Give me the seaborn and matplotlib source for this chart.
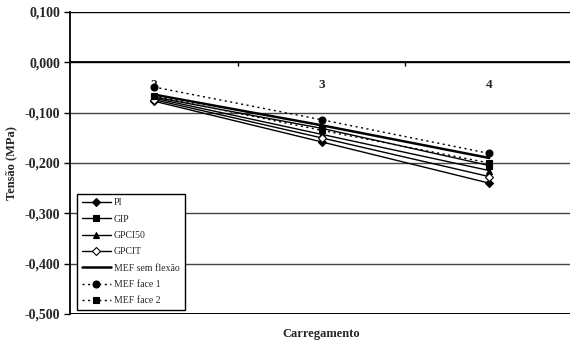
import matplotlib
matplotlib.use("Agg")
import matplotlib.pyplot as plt
from matplotlib.ticker import FixedLocator, FuncFormatter
import seaborn as sns
import pandas as pd

# Load steps and stresses (MPa) for each method
carregamento = [2, 3, 4]
pi = [-0.077, -0.158, -0.240]
gip = [-0.069, -0.131, -0.205]
gpci50 = [-0.071, -0.143, -0.215]
gpcit = [-0.074, -0.150, -0.227]
mef_sem_flexao = [-0.064, -0.125, -0.190]
mef_face1 = [-0.049, -0.114, -0.181]
mef_face2 = [-0.067, -0.135, -0.200]

series_names = ["PI", "GIP", "GPCI50", "GPCIT", "MEF sem flexão", "MEF face 1", "MEF face 2"]
series_values = [pi, gip, gpci50, gpcit, mef_sem_flexao, mef_face1, mef_face2]
y_ticks = [0.1, 0.0, -0.1, -0.2, -0.3, -0.4, -0.5]

styles = {
    "PI": dict(marker="D", markersize=4, mfc="black", ls="-", lw=1.0),
    "GIP": dict(marker="s", markersize=5, mfc="black", ls="-", lw=1.0),
    "GPCI50": dict(marker="^", markersize=5, mfc="black", ls="-", lw=1.0),
    "GPCIT": dict(marker="D", markersize=4, mfc="white", ls="-", lw=1.0),
    "MEF sem flexão": dict(marker=None, ls="-", lw=1.8),
    "MEF face 1": dict(marker="o", markersize=5, mfc="black", ls=(0, (1.5, 2.5)), lw=1.0),
    "MEF face 2": dict(marker="s", markersize=5, mfc="black", ls=(0, (1.5, 2.5)), lw=1.0),
}

sns.set_theme(style="white")
plt.rcParams["font.family"] = ["Liberation Serif", "DejaVu Serif"]

fig = plt.figure(figsize=(5.7, 3.45), dpi=100)
ax = fig.add_axes([70 / 570, 1 - 314 / 345, 503 / 570, 302 / 345])

for name, vals in zip(series_names, series_values):
    df = pd.DataFrame({"Carregamento": carregamento, "Tensão": vals})
    st = styles[name]
    sns.lineplot(data=df, x="Carregamento", y="Tensão", ax=ax, color="black",
                 linestyle=st["ls"], linewidth=st["lw"], marker=st["marker"],
                 markersize=st.get("markersize", 0), markerfacecolor=st.get("mfc", "black"),
                 markeredgecolor="black", markeredgewidth=0.8, label=name)

ax.set_xlim(1.5, 4.5)
ax.set_ylim(-0.5, 0.1)
ax.yaxis.set_major_locator(FixedLocator(y_ticks))
ax.yaxis.set_major_formatter(FuncFormatter(lambda v, p: f"{v:.3f}".replace(".", ",").replace("-0,000", "0,000")))
for t in y_ticks:
    ax.axhline(t, color="#444444" if t not in (0.0, -0.5, 0.1) else "black",
               lw=1.0 if t != -0.5 else 1.4, zorder=0)

# category axis crossing at zero
ax.spines["bottom"].set_position(("data", 0))
ax.spines["bottom"].set_linewidth(1.3)
ax.spines["bottom"].set_color("black")
ax.spines["left"].set_linewidth(1.3)
ax.spines["left"].set_color("black")
ax.spines["top"].set_visible(False)
ax.spines["right"].set_visible(False)

ax.set_xticks(carregamento)
ax.set_xticklabels([str(c) for c in carregamento], fontweight="bold", fontsize=9.5)
ax.set_xticks([2.5, 3.5], minor=True)
ax.tick_params(axis="x", which="major", length=0, pad=12)
ax.tick_params(axis="x", which="minor", length=3, width=1, color="black", direction="out", bottom=True)
ax.tick_params(axis="y", length=4, width=1, color="black", direction="out", left=True, labelsize=10, pad=3)
for lab in ax.get_yticklabels():
    lab.set_fontweight("bold")

ax.set_xlabel("")
ax.set_ylabel("Tensão (MPa)", fontweight="bold", fontsize=9, labelpad=5)
fig.text(321 / 570, 1 - 334 / 345, "Carregamento", ha="center", va="center",
         fontweight="bold", fontsize=9)

leg = ax.legend(loc="lower left", bbox_to_anchor=(0.014, 0.013), fontsize=7,
                frameon=True, fancybox=False, edgecolor="black", framealpha=1,
                handlelength=3.0, handletextpad=0.3, labelspacing=0.75,
                borderpad=0.5, borderaxespad=0)
leg.get_frame().set_linewidth(1.0)

fig.savefig("out.png", dpi=100)
